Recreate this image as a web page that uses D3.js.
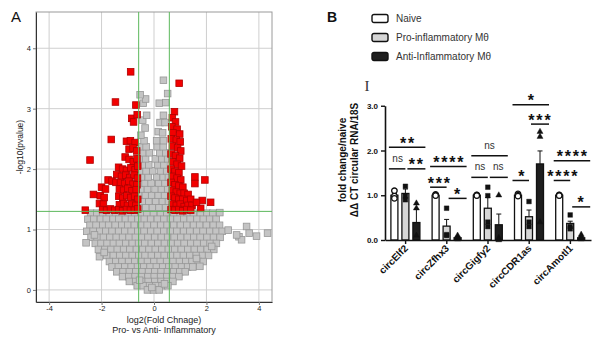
<!DOCTYPE html>
<html>
<head>
<meta charset="utf-8">
<script src="https://cdn.jsdelivr.net/npm/d3@7"></script>
<style>
  body { margin: 0; background: #fff; }
  svg { display: block; font-family: "Liberation Sans", Arial, sans-serif; }
</style>
</head>
<body>
<svg id="chart" width="600" height="339"></svg>
<script>
// ---------- panel A : volcano plot (log2 fold change vs -log10 p) ----------
const volcanoTicksX = [-4, -2, 0, 2, 4];
const volcanoTicksY = [0, 1, 2, 3, 4];
const foldCut = 0.585;   // log2(1.5)
const pCut = 1.3;        // -log10(0.05)

// dense grey cloud, read row by row: [y, [x, x, ...]]
const greyRows = [
  [1.27, [-2.42,-2.18,-1.96,-1.7,-1.47,-1.21,-0.99,-0.74,-0.5,-0.27,-0.02,0.25,0.49,0.76,1.0,1.27,1.5,1.77,2.02,2.24]],
  [1.17, [-2.52,-2.3,-2.04,-1.82,-1.56,-1.34,-1.09,-0.86,-0.61,-0.37,-0.13,0.13,0.38,0.63,0.88,1.14,1.38,1.64,1.88,2.12,2.37]],
  [1.07, [-2.44,-2.21,-1.95,-1.73,-1.48,-1.23,-1.0,-0.75,-0.5,-0.26,0.0,0.26,0.5,0.75,1.01,1.25,1.51,1.74,2.0,2.26,2.5]],
  [0.97, [-2.56,-2.32,-2.07,-1.84,-1.6,-1.35,-1.11,-0.87,-0.62,-0.38,-0.12,0.12,0.37,0.63,0.87,1.13,1.37,1.63,1.87,2.13,2.37,2.6]],
  [0.87, [-2.4,-2.17,-1.93,-1.68,-1.44,-1.2,-0.95,-0.71,-0.47,-0.23,0.03,0.28,0.52,0.77,1.02,1.27,1.52,1.76,2.02,2.27,2.52]],
  [0.77, [-2.24,-2.02,-1.79,-1.55,-1.32,-1.08,-0.83,-0.59,-0.35,-0.1,0.15,0.4,0.65,0.9,1.15,1.4,1.64,1.9,2.14,2.38]],
  [0.67, [-2.12,-1.87,-1.64,-1.4,-1.16,-0.92,-0.67,-0.43,-0.19,0.05,0.3,0.55,0.79,1.04,1.29,1.54,1.78,2.03,2.28]],
  [0.57, [-1.8,-1.55,-1.31,-1.07,-0.83,-0.58,-0.34,-0.1,0.15,0.39,0.64,0.88,1.12,1.37,1.61,1.85,2.08]],
  [0.47, [-1.7,-1.46,-1.22,-0.97,-0.73,-0.49,-0.25,0.0,0.24,0.48,0.73,0.97,1.21,1.45,1.69,1.88]],
  [0.38, [-1.6,-1.36,-1.11,-0.87,-0.63,-0.39,-0.15,0.09,0.33,0.57,0.81,1.05,1.28,1.48]],
  [0.30, [-1.42,-1.18,-0.94,-0.69,-0.45,-0.21,0.03,0.27,0.51,0.75,0.98,1.19]],
  [0.22, [-1.2,-0.96,-0.72,-0.48,-0.23,0.01,0.25,0.49,0.73,0.95]],
  [0.14, [-0.94,-0.7,-0.46,-0.22,0.03,0.27,0.5,0.72]],
  [0.07, [-0.64,-0.41,-0.17,0.07,0.31,0.53]],
  [0.00, [-0.25,-0.02,0.2]],
  [1.37, [-0.56,-0.31,-0.06,0.19,0.44]],
  [1.47, [-0.45,-0.2,0.07,0.32,0.55]],
  [1.57, [-0.58,-0.33,-0.09,0.16,0.4]],
  [1.67, [-0.5,-0.25,0.04,0.28,0.52]],
  [1.77, [-0.56,-0.34,-0.11,0.18,0.42]],
  [1.87, [-0.48,-0.22,0.1,0.35,0.55]],
  [1.97, [-0.55,-0.3,-0.05,0.25,0.48]],
  [2.07, [-0.45,-0.2,0.15,0.38]],
  [2.17, [-0.55,-0.32,0.05,0.3,0.52]],
  [2.27, [-0.42,-0.18,0.22,0.45]],
  [2.37, [-0.52,-0.3,0.12,0.35]],
  [2.47, [-0.38,0.1,0.36]]
];

// scattered grey points outside the main cloud: [x, y]
const greyScatter = [
  [0.16,2.62],[0.33,2.6],[-0.34,2.68],[-0.5,2.56],[0.23,2.77],[0.42,2.77],[-0.43,2.81],
  [-0.28,2.89],[0.36,2.89],[-0.41,3.09],[0.2,3.09],[0.45,3.1],[-0.32,3.16],[-0.53,3.23],
  [0.52,3.25],[0.36,3.47],[2.51,1.28],[2.83,0.99],[3.53,1.05],[3.24,0.88],[3.34,0.83],
  [3.63,0.94],[3.91,0.89],[4.33,0.94],[3.15,0.91],[1.75,0.39],[-2.59,0.78],[-2.08,0.55],[-2.27,0.91],
  [-1.9,0.62],[2.2,0.72],[-0.08,0.04],[0.4,0.1],[-0.55,0.16],[1.62,0.52]
];

// significant points (red): [x, y]
const redPoints = [
  [-0.89,3.61],[-1.47,3.11],[-0.69,3.06],[-0.85,2.84],[-0.64,2.9],[-0.78,2.78],[-1.63,2.49],
  [-2.44,2.15],[-2.31,1.58],[-2.62,1.32],
  [-1.05,2.46],[-0.9,2.47],[-0.72,2.44],
  [-0.95,2.33],[-0.8,2.35],[-0.66,2.3],
  [-1.1,2.2],[-0.95,2.16],[-0.79,2.12],[-0.65,2.17],
  [-1.35,2.03],[-1.2,2.0],[-1.05,1.98],[-0.88,2.02],[-0.72,1.99],[-0.62,2.05],
  [-1.42,1.91],[-1.24,1.88],[-1.08,1.9],[-0.92,1.86],[-0.76,1.9],[-0.63,1.85],
  [-1.75,1.82],[-1.6,1.8],[-1.45,1.78],[-1.28,1.78],[-1.12,1.76],[-0.96,1.8],[-0.8,1.75],[-0.65,1.74],
  [-2.0,1.7],[-1.85,1.67],[-1.32,1.67],[-1.16,1.65],[-1.0,1.68],[-0.84,1.64],[-0.68,1.66],
  [-2.05,1.56],[-1.9,1.53],[-1.34,1.55],[-1.19,1.52],[-1.04,1.56],[-0.89,1.53],[-0.74,1.55],[-0.62,1.5],
  [-2.08,1.43],[-1.93,1.42],[-1.32,1.41],[-1.16,1.43],[-1.01,1.4],[-0.85,1.42],[-0.69,1.4],
  [-1.96,1.33],[-1.81,1.32],[-1.66,1.34],[-1.5,1.32],[-1.35,1.33],[-1.2,1.31],[-1.05,1.33],
  [-0.9,1.32],[-0.75,1.32],[-0.62,1.34],
  [0.96,3.42],
  [0.78,2.95],[0.7,2.85],[0.82,2.78],[0.68,2.7],[0.88,2.66],[0.72,2.6],[0.98,2.58],[0.66,2.5],
  [0.85,2.48],[1.0,2.45],[0.7,2.38],[0.9,2.35],[1.02,2.3],[0.65,2.25],[0.82,2.22],[0.98,2.18],
  [0.7,2.12],[0.88,2.08],[1.05,2.05],[0.65,2.0],[0.8,1.96],[0.95,1.94],[0.7,1.88],[0.88,1.85],
  [1.02,1.82],[0.65,1.78],[0.8,1.74],[0.95,1.72],[1.1,1.7],[0.7,1.65],[0.85,1.62],[1.0,1.6],
  [1.15,1.6],[1.3,1.58],[0.65,1.55],[0.8,1.52],[0.95,1.5],[1.1,1.5],[1.25,1.48],[1.4,1.5],
  [0.7,1.42],[0.85,1.4],[1.0,1.42],[1.15,1.38],[1.3,1.4],[1.45,1.4],[0.65,1.33],[0.8,1.32],
  [0.95,1.33],[1.1,1.31],[1.25,1.33],[1.4,1.32],
  [1.56,1.87],[1.56,1.76],[1.94,1.82],[2.16,1.45],[1.84,1.48],[1.78,1.35],[1.62,1.45]
];

// ---------- panel B : qPCR bar chart ----------
const genes = ['circElf2', 'circZfhx3', 'circGigfy2', 'circCDR1as', 'circAmotl1'];
const cellTypes = ['Naive', 'Pro-inflammatory Mθ', 'Anti-Inflammatory Mθ'];
const naiveMean = [1.0, 1.0, 1.0, 1.0, 1.0];
const proMean   = [1.04, 0.31, 0.71, 0.52, 0.37];
const antiMean  = [0.39, 0.05, 0.34, 1.70, 0.05];
const naiveSem  = [0.04, 0.01, 0.01, 0.01, 0.01];
const proSem    = [0.10, 0.15, 0.24, 0.15, 0.05];
const antiSem   = [0.30, 0.03, 0.24, 0.29, 0.03];
const naivePts  = [[1.1,0.98,0.93],[1.02,1.0,0.99],[1.01,1.0,0.99],[1.03,1.0,0.98],[1.01,1.0,0.99]];
const proPts    = [[1.2,0.98,0.9],[0.71,0.12,0.1],[1.18,0.99,0.4,0.3],[0.86,0.4,0.3],[0.56,0.3,0.25]];
const antiPts   = [[0.82,0.71,0.1],[0.1,0.05,0.02],[1.0,0.05,0.0],[2.42,2.31,0.4],[0.12,0.06,0.02]];
const yTicksB   = [0, 1, 2, 3];

// significance brackets: [gene index, from group, to group, y, label]
const sigTests = [
  [0,0,2,2.07,'**'],[0,0,1,1.59,'ns'],[0,1,2,1.59,'**'],
  [1,0,2,1.64,'****'],[1,0,1,1.18,'***'],[1,1,2,0.93,'*'],
  [2,0,2,1.88,'ns'],[2,0,1,1.40,'ns'],[2,1,2,1.40,'ns'],
  [3,0,2,3.02,'*'],[3,1,2,2.59,'***'],[3,0,1,1.33,'*'],
  [4,0,2,1.77,'****'],[4,0,1,1.33,'****'],[4,1,2,0.74,'*']
];

const svg = d3.select('#chart');

// ================= panel A =================
const xA = d3.scaleLinear().domain([-4.5, 4.5]).range([36, 272]);
const yA = d3.scaleLinear().domain([-0.2, 4.6]).range([302, 12]);
const gA = svg.append('g');

gA.selectAll('line.gx').data(volcanoTicksX).join('line')
  .attr('class', 'gx')
  .attr('x1', d => xA(d)).attr('x2', d => xA(d))
  .attr('y1', yA.range()[1]).attr('y2', yA.range()[0])
  .attr('stroke', '#cfcfcf');
gA.selectAll('line.gy').data(volcanoTicksY).join('line')
  .attr('class', 'gy')
  .attr('x1', xA.range()[0]).attr('x2', xA.range()[1])
  .attr('y1', d => yA(d)).attr('y2', d => yA(d))
  .attr('stroke', '#cfcfcf');

gA.append('rect')
  .attr('x', 36).attr('y', 12).attr('width', 236).attr('height', 290)
  .attr('fill', 'none').attr('stroke', '#9a9a9a');

const greyPoints = greyRows.flatMap(([y, xs]) => xs.map(x => [x, y])).concat(greyScatter);
const sq = 6.6;

gA.append('g').selectAll('rect').data(greyPoints).join('rect')
  .attr('x', d => xA(d[0]) - sq / 2).attr('y', d => yA(d[1]) - sq / 2)
  .attr('width', sq).attr('height', sq)
  .attr('fill', '#c4c4c4').attr('stroke', '#979797').attr('stroke-width', 0.8);

gA.append('g').selectAll('rect').data(redPoints).join('rect')
  .attr('x', d => xA(d[0]) - sq / 2).attr('y', d => yA(d[1]) - sq / 2)
  .attr('width', sq).attr('height', sq)
  .attr('fill', '#f20000').attr('stroke', '#b00000').attr('stroke-width', 0.8);

// threshold lines
[-foldCut, foldCut].forEach(v => {
  gA.append('line')
    .attr('x1', xA(v)).attr('x2', xA(v)).attr('y1', 12).attr('y2', 302)
    .attr('stroke', '#5cb85c').attr('stroke-width', 1);
});
gA.append('line')
  .attr('x1', 36).attr('x2', 272).attr('y1', yA(pCut)).attr('y2', yA(pCut))
  .attr('stroke', '#5cb85c').attr('stroke-width', 1);

const axXA = gA.append('g').attr('transform', 'translate(0,302)')
  .call(d3.axisBottom(xA).tickValues(volcanoTicksX).tickSize(3).tickSizeOuter(0).tickPadding(1).tickFormat(d => String(d)));
const axYA = gA.append('g').attr('transform', 'translate(36,0)')
  .call(d3.axisLeft(yA).tickValues(volcanoTicksY).tickSize(3).tickSizeOuter(0).tickPadding(2).tickFormat(d => String(d)));
[axXA, axYA].forEach(ax => {
  ax.select('.domain').attr('stroke', '#333');
  ax.selectAll('.tick line').attr('stroke', '#777');
  ax.selectAll('.tick text').attr('font-size', 7.5).attr('fill', '#222')
    .attr('font-family', '"Liberation Sans", Arial, sans-serif');
});

gA.append('text').attr('transform', 'translate(23,147) rotate(-90)')
  .attr('text-anchor', 'middle').attr('font-size', 8.5).attr('fill', '#222')
  .text('-log10(pvalue)');
gA.append('text').attr('x', 164).attr('y', 322.5).attr('text-anchor', 'middle')
  .attr('font-size', 9).attr('fill', '#222').text('log2(Fold Chnage)');
gA.append('text').attr('x', 164).attr('y', 333).attr('text-anchor', 'middle')
  .attr('font-size', 9).attr('fill', '#222').text('Pro- vs Anti- Inflammatory');
svg.append('text').attr('x', 11).attr('y', 22).attr('font-size', 15).attr('fill', '#111').text('A');

// ================= panel B =================
const xB = d3.scaleBand().domain(genes).range([385, 591]);
const xSub = d3.scalePoint().domain([0, 1, 2]).range([-11.2, 10.8]);
const yB = d3.scaleLinear().domain([0, 3]).range([240, 105.75]);
const gB = svg.append('g');
const barW = 7;
const center = gi => xB(genes[gi]) + xB.bandwidth() / 2;

svg.append('text').attr('x', 327).attr('y', 22).attr('font-size', 14).attr('font-weight', 'bold')
  .attr('fill', '#111').text('B');

// legend
const legFill = ['#ffffff', '#d6d6d6', '#1e1e1e'];
const leg = gB.append('g').selectAll('g').data(cellTypes).join('g')
  .attr('transform', (d, i) => `translate(372,${14.5 + i * 19})`);
leg.append('rect').attr('width', 16).attr('height', 8).attr('rx', 2)
  .attr('fill', (d, i) => legFill[i]).attr('stroke', '#111').attr('stroke-width', 1.4);
leg.append('text').attr('x', 24).attr('y', 7.5).attr('font-size', 10).attr('fill', '#333').text(d => d);

svg.append('text').attr('x', 367).attr('y', 91).attr('text-anchor', 'middle')
  .attr('font-family', '"Liberation Serif", "DejaVu Serif", serif').attr('font-size', 15)
  .attr('fill', '#333').text('I');

// bars
const means = [naiveMean, proMean, antiMean];
const sems = [naiveSem, proSem, antiSem];
const pts = [naivePts, proPts, antiPts];
const barData = [];
genes.forEach((g, gi) => cellTypes.forEach((c, si) => {
  barData.push({gi, si, v: means[si][gi], e: sems[si][gi], p: pts[si][gi]});
}));
const bx = d => center(d.gi) + xSub(d.si);

// error bars (upper)
gB.append('g').selectAll('path').data(barData).join('path')
  .attr('d', d => `M${bx(d)},${yB(d.v)}V${yB(d.v + d.e)}M${bx(d) - 2.5},${yB(d.v + d.e)}H${bx(d) + 2.5}`)
  .attr('stroke', '#111').attr('stroke-width', 1).attr('fill', 'none');

gB.append('g').selectAll('rect').data(barData).join('rect')
  .attr('x', d => bx(d) - barW / 2).attr('width', barW)
  .attr('y', d => yB(d.v)).attr('height', d => yB(0) - yB(d.v))
  .attr('fill', d => legFill[d.si]).attr('stroke', '#111').attr('stroke-width', 1.3);

// individual replicate points
const ptData = barData.flatMap(d => d.p.map(v => ({si: d.si, x: bx(d), v})));
gB.append('g').selectAll('path').data(ptData).join('path')
  .attr('transform', d => `translate(${d.x},${yB(d.v)})`)
  .attr('d', d => d3.symbol().type([d3.symbolCircle, d3.symbolSquare, d3.symbolTriangle][d.si]).size([24, 22, 16][d.si])())
  .attr('fill', d => d.si === 0 ? '#fff' : '#111')
  .attr('stroke', '#111').attr('stroke-width', d => d.si === 0 ? 1.3 : 0.4);

// axes
const axYB = gB.append('g').attr('transform', 'translate(385,0)')
  .call(d3.axisLeft(yB).tickValues(yTicksB).tickSize(4).tickSizeOuter(0).tickPadding(3));
const axXB = gB.append('g').attr('transform', 'translate(0,240)')
  .call(d3.axisBottom(xB).tickSize(4).tickSizeOuter(0).tickFormat(''));
[axYB, axXB].forEach(ax => {
  ax.select('.domain').attr('stroke', '#111').attr('stroke-width', 1.6);
  ax.selectAll('.tick line').attr('stroke', '#111').attr('stroke-width', 1.4);
});
axYB.selectAll('.tick text').attr('font-size', 8).attr('font-weight', 'bold').attr('fill', '#111')
  .attr('font-family', '"Liberation Sans", Arial, sans-serif');

gB.append('g').selectAll('text').data(genes).join('text')
  .attr('transform', d => `translate(${xB(d) + xB.bandwidth() / 2 + 3},249) rotate(-45)`)
  .attr('text-anchor', 'end').attr('font-size', 10).attr('font-weight', 'bold').attr('fill', '#111')
  .text(d => d);

gB.append('text').attr('transform', 'translate(346,160) rotate(-90)')
  .attr('text-anchor', 'middle').attr('font-size', 10).attr('font-weight', 'bold').attr('fill', '#111')
  .text('fold change/naive');
gB.append('text').attr('transform', 'translate(358,160) rotate(-90)')
  .attr('text-anchor', 'middle').attr('font-size', 10).attr('font-weight', 'bold').attr('fill', '#111')
  .text('ΔΔ CT circular RNA/18S');

// significance brackets
const sig = gB.append('g').selectAll('g').data(sigTests).join('g');
const sx1 = d => center(d[0]) + (d[1] === 0 ? xSub(0) - 5.5 : xSub(1) + 1);
const sx2 = d => center(d[0]) + (d[2] === 1 ? xSub(1) + 1 : xSub(2) + 9);
sig.append('line')
  .attr('x1', d => d[1] === 1 ? sx1(d) + 1 : sx1(d)).attr('x2', d => d[2] === 1 ? sx2(d) - 1 : sx2(d))
  .attr('y1', d => yB(d[3])).attr('y2', d => yB(d[3]))
  .attr('stroke', '#111').attr('stroke-width', 1.5);
sig.append('text')
  .attr('x', d => (sx1(d) + sx2(d)) / 2 + (d[4] === 'ns' ? 0 : 0.9))
  .attr('y', d => yB(d[3]) + (d[4] === 'ns' ? -7 : 1.5))
  .attr('text-anchor', 'middle')
  .attr('font-size', d => d[4] === 'ns' ? 10 : 16)
  .attr('font-weight', d => d[4] === 'ns' ? 'normal' : 'bold')
  .attr('letter-spacing', d => d[4] === 'ns' ? 0 : 1.8)
  .attr('fill', d => d[4] === 'ns' ? '#333' : '#111')
  .text(d => d[4]);
</script>
</body>
</html>
